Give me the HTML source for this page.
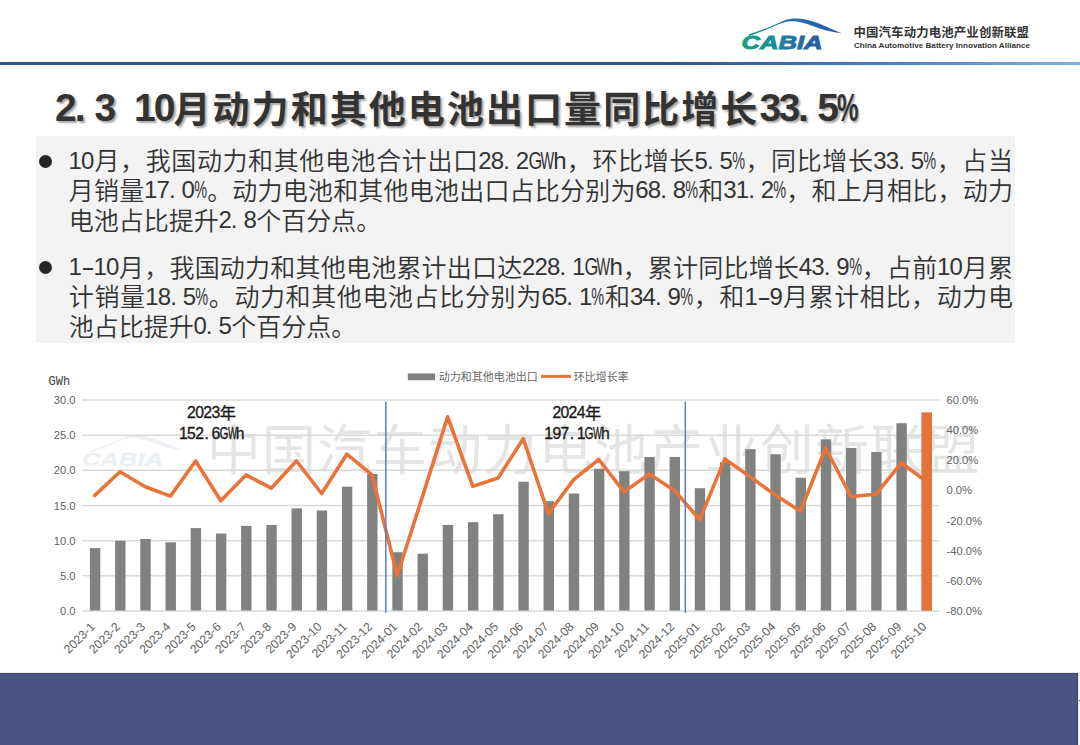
<!DOCTYPE html>
<html lang="zh-CN"><head><meta charset="utf-8">
<style>
html,body{margin:0;padding:0;}
body{width:1080px;height:745px;position:relative;overflow:hidden;background:#fff;}
.abs{position:absolute;}
#topline{position:absolute;left:0;top:62px;width:1080px;height:3.4px;box-shadow:0 0 1px rgba(70,100,160,.55);background:linear-gradient(to right,#32548f 0%,#32548f 62%,#4a78bd 80%,#7eb2e3 100%);}
#title{position:absolute;left:55px;top:85.5px;font-family:"Liberation Sans","Noto Sans CJK SC",sans-serif;font-weight:bold;font-size:37px;letter-spacing:2.06px;line-height:48px;color:#333;white-space:nowrap;text-shadow:2px 2px 2px rgba(0,0,0,.35);}
#title .hc{display:inline-block;width:19.75px;font-family:"Liberation Sans",sans-serif;font-size:39px;letter-spacing:0;position:relative;top:-1.5px;}
#title .pc{display:inline-block;transform:scaleX(0.62);transform-origin:0 0;}
#box{position:absolute;left:36px;top:136px;width:979px;height:207px;background:#f2f3f2;}
.ln{position:absolute;left:68.8px;width:944.2px;font-weight:350;font-family:"Liberation Sans","Noto Sans CJK SC",sans-serif;font-size:25px;line-height:29.5px;color:#333;white-space:nowrap;}
.c{display:inline-flex;justify-content:center;width:.5em;letter-spacing:0;white-space:nowrap;}
.c b{display:block;flex:none;font-weight:normal;font-family:"Liberation Sans",sans-serif;font-size:.96em;position:relative;top:-1.5px;}
.c b.q{transform:scaleX(.6);}
.c b.g{transform:scaleX(.74);}
.c b.m{transform:scaleX(1.7);}
.c b.d{position:relative;left:-.14em;}
.an .c b.d{left:-.06em;}
.an .c b{font-size:.97em;}
.bul{position:absolute;left:39.2px;width:13px;height:13px;border-radius:50%;background:#262626;}
.full{text-align:justify;text-align-last:justify;}
#chart{position:absolute;left:0;top:0;}
.ax{font-family:"Liberation Sans",sans-serif;font-size:11.2px;fill:#626262;}
.axl{font-family:"Liberation Sans",sans-serif;font-size:12.2px;fill:#626262;}
.gwh{font-family:"Liberation Mono",monospace;font-size:12px;fill:#404040;}
.lg{font-family:"Liberation Sans","Noto Sans CJK SC",sans-serif;font-size:11px;fill:#666;}
.an{position:absolute;width:100px;text-align:center;font-family:"Liberation Sans","Noto Sans CJK SC",sans-serif;font-size:16.2px;line-height:20px;color:#1a1a1a;white-space:nowrap;-webkit-text-stroke:0.35px #1a1a1a;}
#footer{position:absolute;left:0;top:672.5px;width:1077px;height:72.5px;background:#4a5583;border-top:1.5px solid #3e4772;border-right:1.5px solid #3e4772;box-shadow:0 0 1px rgba(40,48,90,.6);}
#tick{position:absolute;left:1078.5px;top:699.6px;width:1.5px;height:1.4px;background:#555;}
#logo-cn{position:absolute;left:853.5px;top:22.7px;letter-spacing:0.15px;font-family:"Liberation Sans","Noto Sans CJK SC",sans-serif;font-weight:bold;font-size:12.4px;line-height:20px;color:#333;white-space:nowrap;}
</style></head><body>
<svg class="abs" style="left:0;top:0" width="860" height="60" viewBox="0 0 860 60">
  <defs>
   <linearGradient id="lgt" gradientUnits="userSpaceOnUse" x1="742" y1="0" x2="823" y2="0"><stop offset="0" stop-color="#17a084"/><stop offset="0.35" stop-color="#1d8c9c"/><stop offset="1" stop-color="#2b57a5"/></linearGradient>
   <linearGradient id="lgr" gradientUnits="userSpaceOnUse" x1="748" y1="0" x2="842" y2="0"><stop offset="0" stop-color="#2596a0"/><stop offset="0.45" stop-color="#2a6fae"/><stop offset="1" stop-color="#2c57a6"/></linearGradient>
  </defs>
  <path d="M748.2,34.4 C749.6,34.0 753.8,32.6 756.3,31.8 C758.8,31.0 761.0,30.3 763.5,29.3 C766.0,28.3 769.1,27.1 771.6,26.0 C774.1,24.9 776.5,23.9 778.7,23.0 C780.9,22.1 782.9,21.0 784.9,20.3 C786.9,19.6 789.0,19.1 791.0,18.8 C793.0,18.5 794.9,18.5 797.1,18.6 C799.3,18.7 801.8,18.9 804.2,19.3 C806.6,19.7 808.8,20.2 811.3,20.9 C813.8,21.6 816.8,22.6 819.5,23.7 C822.2,24.8 824.9,26.0 827.6,27.2 C830.3,28.4 833.4,29.7 835.8,30.8 C838.2,31.9 840.9,33.1 841.9,33.6 L841.9,33.6 C840.5,33.4 836.4,32.6 833.7,32.1 C831.0,31.6 828.3,31.0 825.6,30.3 C822.9,29.6 820.1,28.7 817.4,27.8 C814.7,26.9 812.0,25.6 809.3,24.7 C806.6,23.8 803.8,23.0 801.1,22.4 C798.4,21.8 795.5,21.4 793.0,21.3 C790.5,21.2 788.3,21.4 785.9,21.9 C783.5,22.4 781.1,23.3 778.7,24.2 C776.3,25.1 774.1,26.1 771.6,27.2 C769.1,28.3 766.0,29.8 763.5,30.8 C761.0,31.8 758.7,32.5 756.3,33.4 C753.9,34.2 750.4,35.5 749.2,35.9 Z" fill="url(#lgr)"/>
  <text x="741.5" y="49" font-family="Liberation Sans, sans-serif" font-weight="bold" font-style="italic" font-size="19" fill="url(#lgt)" stroke="url(#lgt)" stroke-width="0.9" textLength="81" lengthAdjust="spacingAndGlyphs">CABIA</text>
</svg>
<div id="logo-cn">中国汽车动力电池产业创新联盟</div>
<svg class="abs" style="left:853px;top:39px" width="180" height="12"><text x="1" y="9.1" font-family="Liberation Sans, sans-serif" font-weight="bold" font-size="8" fill="#333" textLength="176" lengthAdjust="spacingAndGlyphs">China Automotive Battery Innovation Alliance</text></svg>
<div id="topline"></div>
<div id="title"><span class="hc">2</span><span class="hc">.</span><span class="hc">3</span><span class="hc">&nbsp;</span><span class="hc">1</span><span class="hc">0</span>月动力和其他电池出口量同比增长<span class="hc" style="width:19.3px">3</span><span class="hc" style="width:19.3px">3</span><span class="hc" style="width:19.3px">.</span><span class="hc" style="width:19.3px">5</span><span class="hc" style="width:19.3px"><span class="pc">%</span></span></div>
<div id="box"></div>
<div class="bul" style="top:155px"></div>
<div class="bul" style="top:260.6px"></div>
<div class="ln full" style="top:147.0px"><span class="c"><b>1</b></span><span class="c"><b>0</b></span>月，我国动力和其他电池合计出口<span class="c"><b>2</b></span><span class="c"><b>8</b></span><span class="c"><b class="d">.</b></span><span class="c"><b>2</b></span><span class="c"><b class="g">G</b></span><span class="c"><b class="q">W</b></span><span class="c"><b>h</b></span>，环比增长<span class="c"><b>5</b></span><span class="c"><b class="d">.</b></span><span class="c"><b>5</b></span><span class="c"><b class="q">%</b></span>，同比增长<span class="c"><b>3</b></span><span class="c"><b>3</b></span><span class="c"><b class="d">.</b></span><span class="c"><b>5</b></span><span class="c"><b class="q">%</b></span>，占当</div>
<div class="ln full" style="top:176.5px">月销量<span class="c"><b>1</b></span><span class="c"><b>7</b></span><span class="c"><b class="d">.</b></span><span class="c"><b>0</b></span><span class="c"><b class="q">%</b></span>。动力电池和其他电池出口占比分别为<span class="c"><b>6</b></span><span class="c"><b>8</b></span><span class="c"><b class="d">.</b></span><span class="c"><b>8</b></span><span class="c"><b class="q">%</b></span>和<span class="c"><b>3</b></span><span class="c"><b>1</b></span><span class="c"><b class="d">.</b></span><span class="c"><b>2</b></span><span class="c"><b class="q">%</b></span>，和上月相比，动力</div>
<div class="ln" style="top:206.5px">电池占比提升<span class="c"><b>2</b></span><span class="c"><b class="d">.</b></span><span class="c"><b>8</b></span>个百分点。</div>
<div class="ln full" style="top:253.5px"><span class="c"><b>1</b></span><span class="c"><b class="m">-</b></span><span class="c"><b>1</b></span><span class="c"><b>0</b></span>月，我国动力和其他电池累计出口达<span class="c"><b>2</b></span><span class="c"><b>2</b></span><span class="c"><b>8</b></span><span class="c"><b class="d">.</b></span><span class="c"><b>1</b></span><span class="c"><b class="g">G</b></span><span class="c"><b class="q">W</b></span><span class="c"><b>h</b></span>，累计同比增长<span class="c"><b>4</b></span><span class="c"><b>3</b></span><span class="c"><b class="d">.</b></span><span class="c"><b>9</b></span><span class="c"><b class="q">%</b></span>，占前<span class="c"><b>1</b></span><span class="c"><b>0</b></span>月累</div>
<div class="ln full" style="top:283.0px">计销量<span class="c"><b>1</b></span><span class="c"><b>8</b></span><span class="c"><b class="d">.</b></span><span class="c"><b>5</b></span><span class="c"><b class="q">%</b></span>。动力和其他电池占比分别为<span class="c"><b>6</b></span><span class="c"><b>5</b></span><span class="c"><b class="d">.</b></span><span class="c"><b>1</b></span><span class="c"><b class="q">%</b></span>和<span class="c"><b>3</b></span><span class="c"><b>4</b></span><span class="c"><b class="d">.</b></span><span class="c"><b>9</b></span><span class="c"><b class="q">%</b></span>，和<span class="c"><b>1</b></span><span class="c"><b class="m">-</b></span><span class="c"><b>9</b></span>月累计相比，动力电</div>
<div class="ln" style="top:312.5px">池占比提升<span class="c"><b>0</b></span><span class="c"><b class="d">.</b></span><span class="c"><b>5</b></span>个百分点。</div>
<svg id="chart" width="1080" height="745" viewBox="0 0 1080 745">
<g transform="translate(-659.6,416.8)" opacity="1">
  <path d="M748.2,34.4 C749.6,34.0 753.8,32.6 756.3,31.8 C758.8,31.0 761.0,30.3 763.5,29.3 C766.0,28.3 769.1,27.1 771.6,26.0 C774.1,24.9 776.5,23.9 778.7,23.0 C780.9,22.1 782.9,21.0 784.9,20.3 C786.9,19.6 789.0,19.1 791.0,18.8 C793.0,18.5 794.9,18.5 797.1,18.6 C799.3,18.7 801.8,18.9 804.2,19.3 C806.6,19.7 808.8,20.2 811.3,20.9 C813.8,21.6 816.8,22.6 819.5,23.7 C822.2,24.8 824.9,26.0 827.6,27.2 C830.3,28.4 833.4,29.7 835.8,30.8 C838.2,31.9 840.9,33.1 841.9,33.6 L841.9,33.6 C840.5,33.4 836.4,32.6 833.7,32.1 C831.0,31.6 828.3,31.0 825.6,30.3 C822.9,29.6 820.1,28.7 817.4,27.8 C814.7,26.9 812.0,25.6 809.3,24.7 C806.6,23.8 803.8,23.0 801.1,22.4 C798.4,21.8 795.5,21.4 793.0,21.3 C790.5,21.2 788.3,21.4 785.9,21.9 C783.5,22.4 781.1,23.3 778.7,24.2 C776.3,25.1 774.1,26.1 771.6,27.2 C769.1,28.3 766.0,29.8 763.5,30.8 C761.0,31.8 758.7,32.5 756.3,33.4 C753.9,34.2 750.4,35.5 749.2,35.9 Z" fill="#eceff4"/>
  <text x="741.5" y="49" font-family="Liberation Sans, sans-serif" font-weight="bold" font-style="italic" font-size="19" fill="#ecf0f3" stroke="#ecf0f3" stroke-width="0.4" textLength="81" lengthAdjust="spacingAndGlyphs">CABIA</text>
</g>
<text x="206.8" y="469.5" font-family="Liberation Sans, Noto Sans CJK SC, sans-serif" font-weight="400" font-size="54" letter-spacing="1.3" fill="#e5e5e5">中国汽车动力电池产业创新联盟</text>
<line x1="82.2" y1="400.00" x2="939.1" y2="400.00" stroke="#d9d9d9" stroke-width="1.5"/>
<line x1="82.2" y1="435.17" x2="939.1" y2="435.17" stroke="#d9d9d9" stroke-width="1.5"/>
<line x1="82.2" y1="470.33" x2="939.1" y2="470.33" stroke="#d9d9d9" stroke-width="1.5"/>
<line x1="82.2" y1="505.50" x2="939.1" y2="505.50" stroke="#d9d9d9" stroke-width="1.5"/>
<line x1="82.2" y1="540.67" x2="939.1" y2="540.67" stroke="#d9d9d9" stroke-width="1.5"/>
<line x1="82.2" y1="575.83" x2="939.1" y2="575.83" stroke="#d9d9d9" stroke-width="1.5"/>
<line x1="82.2" y1="611.00" x2="939.1" y2="611.00" stroke="#d9d9d9" stroke-width="1.5"/>
<rect x="89.90" y="548.12" width="10.4" height="62.38" fill="#808280"/>
<rect x="115.10" y="540.81" width="10.4" height="69.69" fill="#808280"/>
<rect x="140.31" y="538.98" width="10.4" height="71.52" fill="#808280"/>
<rect x="165.51" y="542.28" width="10.4" height="68.22" fill="#808280"/>
<rect x="190.71" y="528.08" width="10.4" height="82.42" fill="#808280"/>
<rect x="215.92" y="533.49" width="10.4" height="77.01" fill="#808280"/>
<rect x="241.12" y="525.90" width="10.4" height="84.60" fill="#808280"/>
<rect x="266.32" y="524.98" width="10.4" height="85.52" fill="#808280"/>
<rect x="291.53" y="508.31" width="10.4" height="102.19" fill="#808280"/>
<rect x="316.73" y="510.49" width="10.4" height="100.01" fill="#808280"/>
<rect x="341.93" y="486.72" width="10.4" height="123.78" fill="#808280"/>
<rect x="367.13" y="473.99" width="10.4" height="136.51" fill="#808280"/>
<rect x="392.34" y="552.20" width="10.4" height="58.30" fill="#808280"/>
<rect x="417.54" y="553.68" width="10.4" height="56.82" fill="#808280"/>
<rect x="442.74" y="524.98" width="10.4" height="85.52" fill="#808280"/>
<rect x="467.95" y="522.17" width="10.4" height="88.33" fill="#808280"/>
<rect x="493.15" y="514.22" width="10.4" height="96.28" fill="#808280"/>
<rect x="518.35" y="481.73" width="10.4" height="128.77" fill="#808280"/>
<rect x="543.55" y="501.21" width="10.4" height="109.29" fill="#808280"/>
<rect x="568.76" y="493.47" width="10.4" height="117.03" fill="#808280"/>
<rect x="593.96" y="468.79" width="10.4" height="141.71" fill="#808280"/>
<rect x="619.16" y="471.18" width="10.4" height="139.32" fill="#808280"/>
<rect x="644.37" y="456.97" width="10.4" height="153.53" fill="#808280"/>
<rect x="669.57" y="456.97" width="10.4" height="153.53" fill="#808280"/>
<rect x="694.77" y="488.20" width="10.4" height="122.30" fill="#808280"/>
<rect x="719.97" y="462.17" width="10.4" height="148.33" fill="#808280"/>
<rect x="745.18" y="449.16" width="10.4" height="161.34" fill="#808280"/>
<rect x="770.38" y="454.23" width="10.4" height="156.27" fill="#808280"/>
<rect x="795.58" y="477.72" width="10.4" height="132.78" fill="#808280"/>
<rect x="820.79" y="439.32" width="10.4" height="171.18" fill="#808280"/>
<rect x="845.99" y="447.97" width="10.4" height="162.53" fill="#808280"/>
<rect x="871.19" y="451.98" width="10.4" height="158.52" fill="#808280"/>
<rect x="896.40" y="423.21" width="10.4" height="187.29" fill="#808280"/>
<rect x="921.60" y="412.59" width="10.4" height="197.91" fill="#e3733a"/>
<polyline points="94.80,495.40 120.00,471.80 145.21,486.80 170.41,496.10 195.61,461.00 220.82,500.80 246.02,474.90 271.22,488.20 296.43,461.00 321.63,493.50 346.83,454.20 372.03,474.90 397.24,575.50 422.44,496.60 447.64,416.80 472.85,486.40 498.05,478.00 523.25,438.80 548.45,513.60 573.66,479.60 598.86,459.50 624.06,491.90 649.27,474.00 674.47,490.40 699.67,519.70 724.88,458.90 750.08,476.90 775.28,494.90 800.48,511.20 825.69,448.00 850.89,496.50 876.09,494.20 901.30,462.80 926.50,481.60" fill="none" stroke="#e8743b" stroke-width="3.6" stroke-linejoin="round" stroke-linecap="round"/>
<rect x="921.60" y="412.59" width="10.4" height="197.91" fill="#e3733a"/>
<line x1="385.8" y1="401.5" x2="385.8" y2="612.8" stroke="#5a7ec5" stroke-width="1.5"/>
<line x1="685.3" y1="401.5" x2="685.3" y2="612.8" stroke="#5a7ec5" stroke-width="1.5"/>
<text x="75.5" y="404.00" text-anchor="end" class="ax">30.0</text>
<text x="75.5" y="439.17" text-anchor="end" class="ax">25.0</text>
<text x="75.5" y="474.33" text-anchor="end" class="ax">20.0</text>
<text x="75.5" y="509.50" text-anchor="end" class="ax">15.0</text>
<text x="75.5" y="544.67" text-anchor="end" class="ax">10.0</text>
<text x="75.5" y="579.83" text-anchor="end" class="ax">5.0</text>
<text x="75.5" y="615.00" text-anchor="end" class="ax">0.0</text>
<text x="946.5" y="404.00" class="ax">60.0%</text>
<text x="946.5" y="434.14" class="ax">40.0%</text>
<text x="946.5" y="464.29" class="ax">20.0%</text>
<text x="946.5" y="494.43" class="ax">0.0%</text>
<text x="946.5" y="524.57" class="ax">-20.0%</text>
<text x="946.5" y="554.71" class="ax">-40.0%</text>
<text x="946.5" y="584.86" class="ax">-60.0%</text>
<text x="946.5" y="615.00" class="ax">-80.0%</text>
<text transform="translate(95.70,627.50) rotate(-45)" text-anchor="end" class="axl">2023-1</text>
<text transform="translate(120.90,627.50) rotate(-45)" text-anchor="end" class="axl">2023-2</text>
<text transform="translate(146.11,627.50) rotate(-45)" text-anchor="end" class="axl">2023-3</text>
<text transform="translate(171.31,627.50) rotate(-45)" text-anchor="end" class="axl">2023-4</text>
<text transform="translate(196.51,627.50) rotate(-45)" text-anchor="end" class="axl">2023-5</text>
<text transform="translate(221.72,627.50) rotate(-45)" text-anchor="end" class="axl">2023-6</text>
<text transform="translate(246.92,627.50) rotate(-45)" text-anchor="end" class="axl">2023-7</text>
<text transform="translate(272.12,627.50) rotate(-45)" text-anchor="end" class="axl">2023-8</text>
<text transform="translate(297.32,627.50) rotate(-45)" text-anchor="end" class="axl">2023-9</text>
<text transform="translate(322.53,627.50) rotate(-45)" text-anchor="end" class="axl">2023-10</text>
<text transform="translate(347.73,627.50) rotate(-45)" text-anchor="end" class="axl">2023-11</text>
<text transform="translate(372.93,627.50) rotate(-45)" text-anchor="end" class="axl">2023-12</text>
<text transform="translate(398.14,627.50) rotate(-45)" text-anchor="end" class="axl">2024-01</text>
<text transform="translate(423.34,627.50) rotate(-45)" text-anchor="end" class="axl">2024-02</text>
<text transform="translate(448.54,627.50) rotate(-45)" text-anchor="end" class="axl">2024-03</text>
<text transform="translate(473.75,627.50) rotate(-45)" text-anchor="end" class="axl">2024-04</text>
<text transform="translate(498.95,627.50) rotate(-45)" text-anchor="end" class="axl">2024-05</text>
<text transform="translate(524.15,627.50) rotate(-45)" text-anchor="end" class="axl">2024-06</text>
<text transform="translate(549.35,627.50) rotate(-45)" text-anchor="end" class="axl">2024-07</text>
<text transform="translate(574.56,627.50) rotate(-45)" text-anchor="end" class="axl">2024-08</text>
<text transform="translate(599.76,627.50) rotate(-45)" text-anchor="end" class="axl">2024-09</text>
<text transform="translate(624.96,627.50) rotate(-45)" text-anchor="end" class="axl">2024-10</text>
<text transform="translate(650.17,627.50) rotate(-45)" text-anchor="end" class="axl">2024-11</text>
<text transform="translate(675.37,627.50) rotate(-45)" text-anchor="end" class="axl">2024-12</text>
<text transform="translate(700.57,627.50) rotate(-45)" text-anchor="end" class="axl">2025-01</text>
<text transform="translate(725.77,627.50) rotate(-45)" text-anchor="end" class="axl">2025-02</text>
<text transform="translate(750.98,627.50) rotate(-45)" text-anchor="end" class="axl">2025-03</text>
<text transform="translate(776.18,627.50) rotate(-45)" text-anchor="end" class="axl">2025-04</text>
<text transform="translate(801.38,627.50) rotate(-45)" text-anchor="end" class="axl">2025-05</text>
<text transform="translate(826.59,627.50) rotate(-45)" text-anchor="end" class="axl">2025-06</text>
<text transform="translate(851.79,627.50) rotate(-45)" text-anchor="end" class="axl">2025-07</text>
<text transform="translate(876.99,627.50) rotate(-45)" text-anchor="end" class="axl">2025-08</text>
<text transform="translate(902.20,627.50) rotate(-45)" text-anchor="end" class="axl">2025-09</text>
<text transform="translate(927.40,627.50) rotate(-45)" text-anchor="end" class="axl">2025-10</text>
<text x="48.5" y="385" class="gwh">GWh</text>
<rect x="407.8" y="373.4" width="27.3" height="6.8" fill="#808280"/>
<text x="438.8" y="381.2" class="lg">动力和其他电池出口</text>
<line x1="541" y1="376.4" x2="571" y2="376.4" stroke="#e8743b" stroke-width="3"/>
<text x="573.8" y="381.2" class="lg">环比增长率</text>
</svg>
<div class="an" style="left:161.7px;top:403px"><span class="c"><b>2</b></span><span class="c"><b>0</b></span><span class="c"><b>2</b></span><span class="c"><b>3</b></span>年<br><span class="c"><b>1</b></span><span class="c"><b>5</b></span><span class="c"><b>2</b></span><span class="c"><b class="d">.</b></span><span class="c"><b>6</b></span><span class="c"><b class="g">G</b></span><span class="c"><b class="q">W</b></span><span class="c"><b>h</b></span></div>
<div class="an" style="left:527px;top:403px"><span class="c"><b>2</b></span><span class="c"><b>0</b></span><span class="c"><b>2</b></span><span class="c"><b>4</b></span>年<br><span class="c"><b>1</b></span><span class="c"><b>9</b></span><span class="c"><b>7</b></span><span class="c"><b class="d">.</b></span><span class="c"><b>1</b></span><span class="c"><b class="g">G</b></span><span class="c"><b class="q">W</b></span><span class="c"><b>h</b></span></div>
<div id="footer"></div>
<div id="tick"></div>
</body></html>
